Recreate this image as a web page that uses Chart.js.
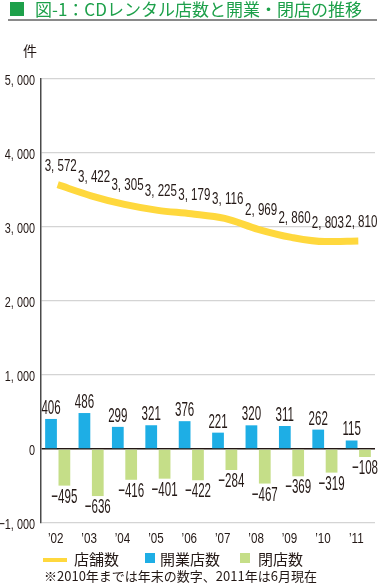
<!DOCTYPE html>
<html><head><meta charset="utf-8">
<script src="https://cdn.jsdelivr.net/npm/chart.js@4/dist/chart.umd.min.js"></script>
<style>
html,body{margin:0;padding:0;background:#fff;width:380px;height:585px;overflow:hidden;font-family:'Noto Sans CJK JP',sans-serif;color:#231815;}
.abs{position:absolute;white-space:nowrap;}
#c{position:absolute;left:0;top:0;}
</style></head>
<body>
<canvas id="c" width="380" height="585"></canvas>
<div class="abs" style="left:10px;top:2px;width:14px;height:14px;background:#1da04a;"></div>
<div class="abs" style="left:35px;top:-2px;font-size:17px;line-height:22px;color:#1da04a;">図-1：CDレンタル店数と開業・閉店の推移</div>
<div class="abs" style="left:8px;top:19px;width:369px;height:2px;background:#8a8a8a;"></div>
<div class="abs" style="left:23px;top:42px;font-size:14px;line-height:16px;">件</div>
<div class="abs" style="left:43px;top:558px;width:24px;height:4px;background:#ffd83d;"></div>
<div class="abs" style="left:74px;top:550px;font-size:15px;line-height:18px;">店舗数</div>
<div class="abs" style="left:145px;top:553px;width:10px;height:10px;background:#1eaee5;"></div>
<div class="abs" style="left:160px;top:550px;font-size:15px;line-height:18px;">開業店数</div>
<div class="abs" style="left:240px;top:553px;width:10px;height:10px;background:#c5de88;"></div>
<div class="abs" style="left:258px;top:550px;font-size:15px;line-height:18px;">閉店数</div>
<div class="abs" style="left:44px;top:568px;font-size:13px;line-height:16px;">※2010年までは年末の数字、2011年は6月現在</div>
<script>
const categories = ["’02","’03","’04","’05","’06","’07","’08","’09","’10","’11"];
const storeCount = [3572,3422,3305,3225,3179,3116,2969,2860,2803,2810];
const openings = [406,486,299,321,376,221,320,311,262,115];
const closings = [-495,-636,-416,-401,-422,-284,-467,-369,-319,-108];
const yTicks = [-1000,0,1000,2000,3000,4000,5000];

function fmt(v){
  const s = Math.abs(v).toLocaleString('en-US').replace(',', ', ');
  return (v<0?'\u2212':'') + s;
}
function condText(ctx, txt, x, y, size, sx){
  ctx.save();
  ctx.font = size + 'px "Liberation Sans", Arial, sans-serif';
  ctx.translate(x, y);
  ctx.scale(sx, 1);
  ctx.textAlign = 'center';
  ctx.textBaseline = 'alphabetic';
  ctx.fillStyle = '#231815';
  ctx.fillText(txt, 0, 0);
  ctx.restore();
}
const labelPlugin = {
  id: 'valueLabels',
  afterDatasetsDraw(chart){
    const ctx = chart.ctx;
    chart.data.datasets.forEach((ds, di) => {
      const meta = chart.getDatasetMeta(di);
      meta.data.forEach((el, i) => {
        const v = ds.data[i];
        if (ds.type === 'line') {
          condText(ctx, fmt(v), el.x + 3, el.y - 14, 17, 0.68);
        } else if (v >= 0) {
          condText(ctx, fmt(v), el.x, el.y - 5, 21, 0.55);
        } else {
          condText(ctx, fmt(v), el.x, el.y + 17, 21, 0.55);
        }
      });
    });
  },
  afterDraw(chart){
    const ctx = chart.ctx;
    const ys = chart.scales.y;
    yTicks.forEach(v => {
      const py = ys.getPixelForValue(v);
      ctx.save();
      ctx.font = '15.5px "Liberation Sans", Arial, sans-serif';
      ctx.translate(35, py + 5.5);
      ctx.scale(0.7, 1);
      ctx.textAlign = 'right';
      ctx.fillStyle = '#231815';
      ctx.fillText(fmt(v), 0, 0);
      ctx.restore();
    });
    const xs = chart.scales.x;
    categories.forEach((c, i) => {
      const px = xs.getPixelForValue(i);
      condText(ctx, c, px - 2, 543, 15.5, 0.75);
    });
  }
};

new Chart(document.getElementById('c'), {
  type: 'bar',
  data: {
    labels: categories,
    datasets: [
      { type: 'line', label: '店舗数', data: storeCount, borderColor: '#ffd83d', backgroundColor: '#ffd83d',
        borderWidth: 7, pointRadius: 0, cubicInterpolationMode: 'monotone', order: 0 },
      { label: '開業店数', data: openings, backgroundColor: '#1eaee5', categoryPercentage: 0.8, barPercentage: 0.88, order: 1 },
      { label: '閉店数', data: closings, backgroundColor: '#c5de88', categoryPercentage: 0.8, barPercentage: 0.88, order: 1 }
    ]
  },
  options: {
    responsive: false,
    animation: false,
    devicePixelRatio: 1,
    layout: { padding: { left: 0, top: 79, right: 5, bottom: 32 } },
    plugins: { legend: { display: false }, tooltip: { enabled: false } },
    scales: {
      x: {
        grid: { display: false },
        border: { display: false },
        ticks: { display: false },
        afterFit(s){ s.height = 30; }
      },
      y: {
        min: -1000, max: 5000,
        afterBuildTicks(s){ s.ticks = yTicks.map(v => ({ value: v })); },
        ticks: { display: false },
        grid: {
          drawTicks: false,
          color: c => c.tick && c.tick.value === 0 ? '#231815' : '#d4d4d4',
          lineWidth: c => c.tick && c.tick.value === 0 ? 1.5 : 1.2
        },
        border: { display: true, color: '#4a4a4a', width: 1.5 },
        afterFit(s){ s.width = 41; }
      }
    }
  },
  plugins: [labelPlugin]
});
</script>
</body></html>
